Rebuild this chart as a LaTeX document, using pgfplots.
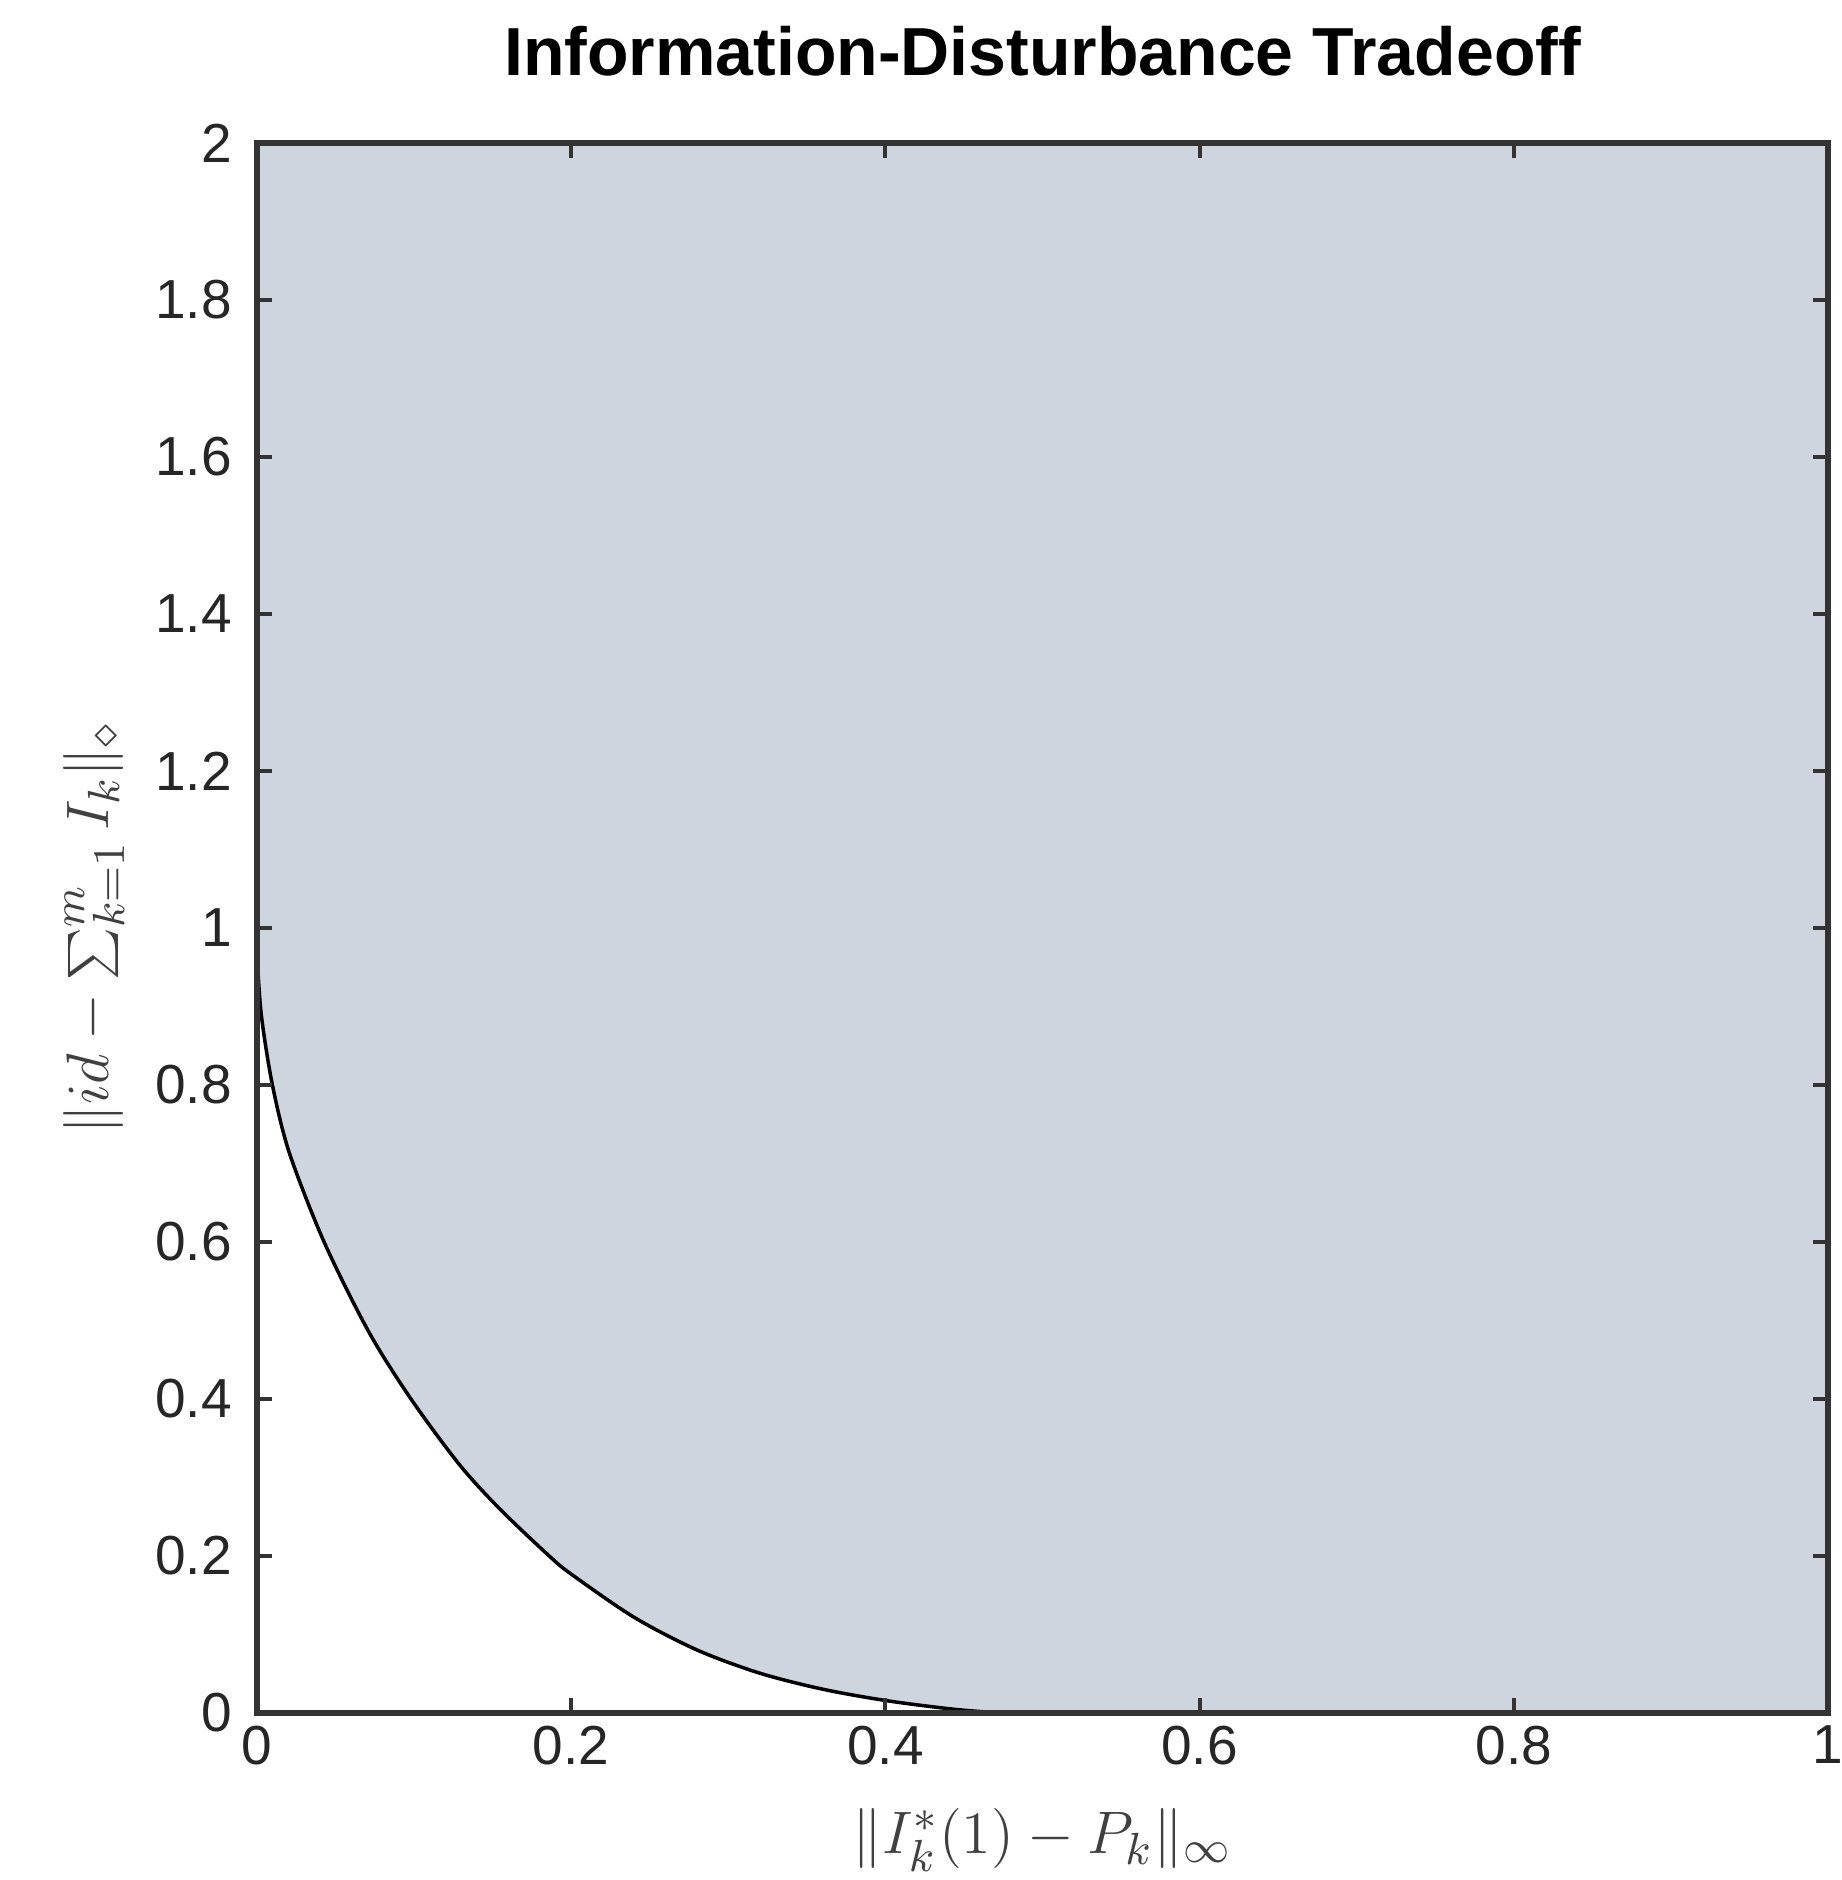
\documentclass[border=0pt]{standalone}
\usepackage{pgfplots}
\pgfplotsset{compat=1.18}
\usepackage{pgfplotstable}
\usepackage{fontspec}
\setmainfont{Liberation Sans}

\definecolor{regionfill}{HTML}{CFD5DF}
\definecolor{ticktext}{HTML}{262626}

% boundary of the tradeoff region
\pgfplotstableread{
x y
0      1.000
0.0005 0.950
0.003  0.885
0.0098 0.800
0.0205 0.714
0.0427 0.600
0.071  0.486
0.098  0.400
0.129  0.316
0.155  0.259
0.186  0.200
0.200  0.1769
0.240  0.1219
0.280  0.0803
0.320  0.0507
0.360  0.0303
0.400  0.0159
0.440  0.0055
0.465  0.0012
0.483  0.000
}\boundary

\begin{document}
\begin{tikzpicture}
\begin{axis}[
    scale only axis,
    width=314.2pt, height=314pt,
    xmin=0, xmax=1, ymin=0, ymax=2,
    xtick={0,0.2,0.4,0.6,0.8,1},
    ytick={0,0.2,0.4,0.6,0.8,1,1.2,1.4,1.6,1.8,2},
    tick align=inside,
    major tick length=3pt,
    tick style={black!80, line width=0.8pt},
    axis line style={black!80, line width=1.2pt},
    axis on top,
    /pgf/number format/assume math mode=true,
    ticklabel style={font=\fontsize{11}{13}\selectfont, text=ticktext},
    yticklabel style={xshift=-1.5pt},
    xticklabel style={yshift=1pt},
    title={Information-Disturbance Tradeoff},
    title style={font=\bfseries\fontsize{13.6}{16}\selectfont, at={(rel axis cs:0.5,1)}, anchor=base, yshift=7.5pt},
    xlabel={$\|I_k^*(1) - P_k\|_\infty$},
    ylabel={$\|id - \sum_{k=1}^m I_k\|_\diamond$},
    label style={font=\fontsize{12.5}{15}\selectfont, text=black!75},
    xlabel style={at={(rel axis cs:0.5,0)}, anchor=north, yshift=-15.6pt},
    ylabel style={at={(rel axis cs:0,0.5)}, anchor=center, yshift=32.6pt},
]
% shaded region above the boundary
\addplot[fill=regionfill, draw=none, smooth] table[x=x, y=y] {\boundary} -- (axis cs:1,0) -- (axis cs:1,2) -- (axis cs:0,2) -- cycle;
% boundary curve
\addplot[black, line width=0.7pt, smooth] table[x=x, y=y] {\boundary};
\coordinate (bl) at (rel axis cs:-0.1636,-0.1064);
\coordinate (tr) at (rel axis cs:1.0083,1.0911);
\end{axis}
\pgfresetboundingbox
\useasboundingbox (bl) rectangle (tr);
\end{tikzpicture}
\end{document}
